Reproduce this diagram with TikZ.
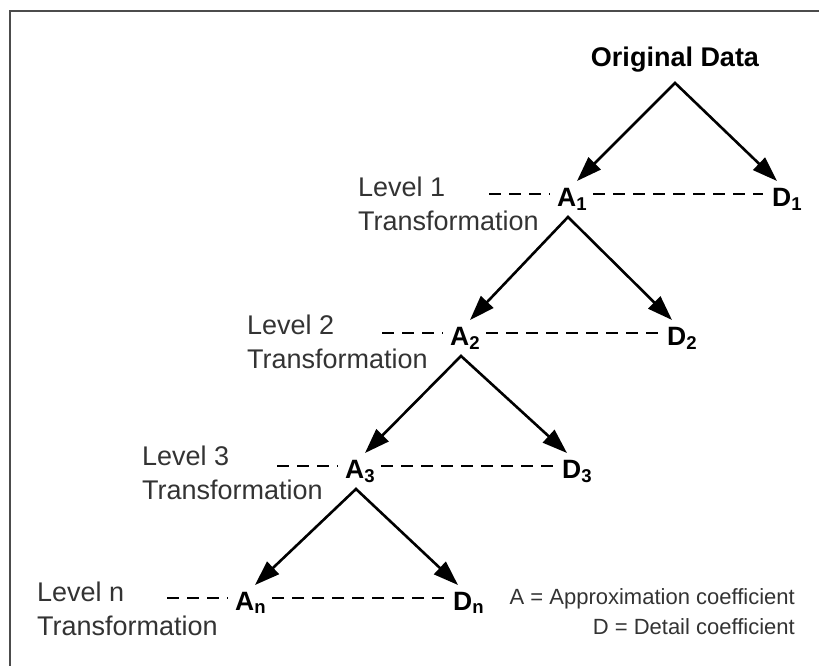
\documentclass[tikz,border=0pt]{standalone}
\usepackage{fontspec}
\setmainfont{Liberation Sans}
\usetikzlibrary{arrows.meta,calc}

\begin{document}
\begin{tikzpicture}[x=1pt,y=-1pt,
  frame/.style={line width=2.2pt,black!70},
  title/.style={anchor=base,inner sep=0pt,font=\fontsize{27}{30}\selectfont\bfseries},
  coef/.style={anchor=base west,inner sep=0pt,font=\fontsize{26.5}{30}\selectfont\bfseries},
  levellabel/.style={anchor=north west,inner sep=0pt,align=left,text=black!80,
    font=\fontsize{27}{34}\selectfont},
  keytext/.style={anchor=north east,inner sep=0pt,align=right,text=black!80,
    font=\fontsize{22}{30}\selectfont},
  split/.style={line width=2.6pt,line join=miter,
    {Triangle[length=25pt,width=17pt]}-{Triangle[length=25pt,width=17pt]}},
  levelline/.style={line width=2pt,dash pattern=on 12pt off 8pt}]

\useasboundingbox (0,0) rectangle (819,666);

% outer frame (left and top edges)
\draw[frame] (10,666) -- (10,11) -- (819,11);

% source signal
\node[title] (orig) at (675,67) {Original Data};

% approximation and detail coefficients per level
\node[coef] (A1) at (557,206) {A\textsubscript{1}};
\node[coef] (D1) at (772,206) {D\textsubscript{1}};
\node[coef] (A2) at (450,345) {A\textsubscript{2}};
\node[coef] (D2) at (667,345) {D\textsubscript{2}};
\node[coef] (A3) at (345,478) {A\textsubscript{3}};
\node[coef] (D3) at (562,478) {D\textsubscript{3}};
\node[coef] (An) at (235,610) {A\textsubscript{n}};
\node[coef] (Dn) at (453,610) {D\textsubscript{n}};

% level captions
\node[levellabel] (L1) at (358,177) {Level 1\\Transformation};
\node[levellabel] (L2) at (247,315) {Level 2\\Transformation};
\node[levellabel] (L3) at (142,446) {Level 3\\Transformation};
\node[levellabel] (Ln) at (37,582) {Level n\\Transformation};

% legend
\node[keytext] (key) at (795,588) {A = Approximation coefficient\\D = Detail coefficient};

% split points and arrow tips
\coordinate (p0) at ([yshift=-10pt]orig.south);
\foreach \k in {1,2,3,n}{
  \coordinate (ta\k) at ($(A\k.base west)+(20,-25)$);
  \coordinate (td\k) at ($(D\k.base west)+(5,-25)$);
  \coordinate (p\k) at ($(A\k.base west)+(11,11)$);
  \coordinate (s\k) at ($(A\k.base west)+(-68,-12)$);
}

% decomposition arrows
\draw[split] (ta1) -- (p0) -- (td1);
\draw[split] (ta2) -- (p1) -- (td2);
\draw[split] (ta3) -- (p2) -- (td3);
\draw[split] (tan) -- (p3) -- (tdn);

% dashed level lines
\foreach \k in {1,2,3,n}{
  \draw[levelline,shorten >=7pt] (s\k) -- (s\k -| A\k.west);
  \draw[levelline,shorten <=6pt,shorten >=9pt] (s\k -| A\k.east) -- (s\k -| D\k.west);
}
\end{tikzpicture}
\end{document}
